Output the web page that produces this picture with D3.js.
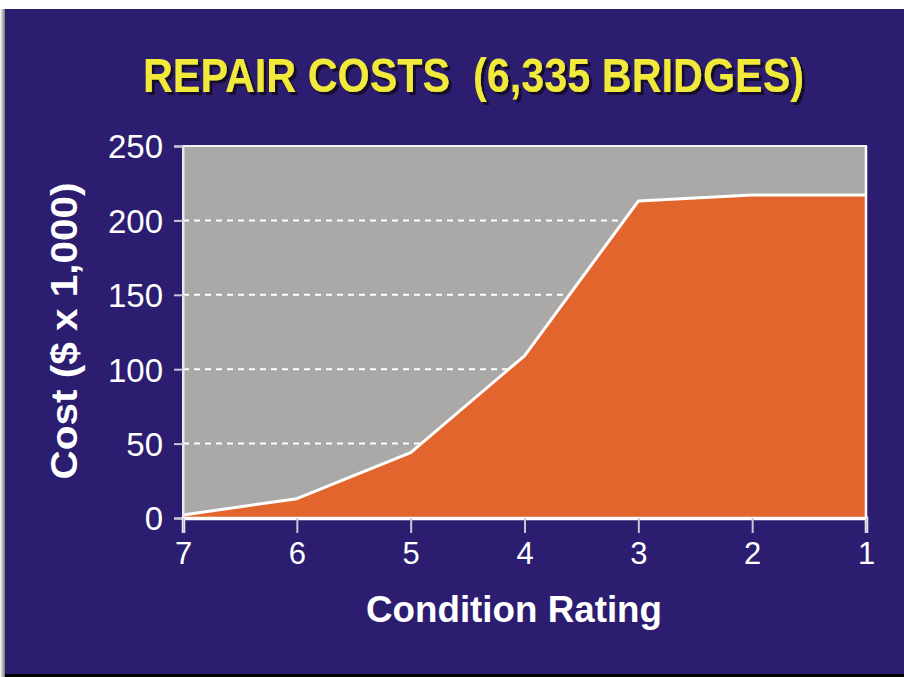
<!DOCTYPE html>
<html>
<head>
<meta charset="utf-8">
<script src="https://cdn.jsdelivr.net/npm/d3@7"></script>
<style>
	body { margin:0; background:#fff; }
	svg { display:block; }
</style>
</head>
<body>
<div id="chart"></div>
<script>

// data
const ratings = [7, 6, 5, 4, 3, 2, 1];
const costs = [2, 13, 44, 109, 213, 217, 217];
const yTicks = [0, 50, 100, 150, 200, 250];
const gridTicks = [50, 100, 150, 200];

function drawChart(){

	//sizing
	let width = 904;
	let height = 677;
	let margin = {top:146, right:38, bottom:159, left:183};

	let svg = d3.select("#chart")
		.append("svg")
		.attr("width", width)
		.attr("height", height);

	let defs = svg.append("defs");

	//shadow on the left edge
	let grad = defs.append("linearGradient").attr("id", "lshadow");
	grad.append("stop").attr("offset", "0%").attr("stop-color", "#fff");
	grad.append("stop").attr("offset", "100%").attr("stop-color", "#777");

	//title drop shadow
	defs.append("filter")
		.attr("id", "tshadow")
		.attr("filterUnits", "userSpaceOnUse")
		.attr("x", 120).attr("y", 40)
		.attr("width", 720).attr("height", 80)
		.append("feDropShadow")
		.attr("dx", 3).attr("dy", 3)
		.attr("stdDeviation", 0.4)
		.attr("flood-color", "#15102a")
		.attr("flood-opacity", 1);

	svg.append("rect")
		.attr("x", 0).attr("y", 9).attr("width", 5).attr("height", 668)
		.attr("fill", "url(#lshadow)");

	//panel
	svg.append("rect")
		.attr("x", 5).attr("y", 9)
		.attr("width", width - 5).attr("height", 665)
		.attr("fill", "#2c1d70");

	svg.append("rect")
		.attr("x", 5).attr("y", 674)
		.attr("width", width - 5).attr("height", 3)
		.attr("fill", "#000");

	//title
	svg.append("text")
		.attr("x", 143).attr("y", 92)
		.attr("textLength", 661)
		.attr("lengthAdjust", "spacingAndGlyphs")
		.attr("font-family", "'Liberation Sans Narrow', 'Arial Narrow', 'Liberation Sans', Arial, sans-serif")
		.attr("font-weight", "bold")
		.attr("font-size", 49)
		.attr("fill", "#f1ea3b")
		.attr("filter", "url(#tshadow)")
		.text("REPAIR COSTS\u00a0\u00a0(6,335 BRIDGES)");

	//scales
	let x = d3.scalePoint()
		.domain(ratings)
		.range([margin.left, width - margin.right]);

	let y = d3.scaleLinear()
		.domain([0, 250])
		.range([height - margin.bottom, margin.top]);

	//plot background
	svg.append("rect")
		.attr("x", margin.left).attr("y", margin.top)
		.attr("width", width - margin.right - margin.left)
		.attr("height", y(0) - margin.top)
		.attr("fill", "#aaa9a7")
		.attr("stroke", "#f2f2f2")
		.attr("stroke-width", 2);

	//grid
	svg.append("g")
		.selectAll("line")
		.data(gridTicks)
		.join("line")
		.attr("x1", margin.left).attr("x2", width - margin.right)
		.attr("y1", d => y(d)).attr("y2", d => y(d))
		.attr("stroke", "#fff")
		.attr("stroke-width", 2)
		.attr("stroke-dasharray", "6,5");

	//area + line
	let pts = ratings.map((r, i) => [r, costs[i]]);

	svg.append("path")
		.datum(pts)
		.attr("d", d3.area().x(d => x(d[0])).y0(y(0)).y1(d => y(d[1])))
		.attr("fill", "#e2652e");

	svg.append("path")
		.datum(pts)
		.attr("d", d3.line().x(d => x(d[0])).y(d => y(d[1])))
		.attr("fill", "none")
		.attr("stroke", "#fff")
		.attr("stroke-width", 3)
		.attr("stroke-linejoin", "round");

	//right border
	svg.append("line")
		.attr("x1", width - margin.right).attr("x2", width - margin.right)
		.attr("y1", margin.top).attr("y2", y(0))
		.attr("stroke", "#fff").attr("stroke-width", 2.5);

	//axes
	let yAxis = svg.append("g")
		.attr("transform", `translate(${margin.left},0)`)
		.call(d3.axisLeft(y).tickValues(yTicks).tickSize(9).tickPadding(11));

	yAxis.select(".domain").attr("stroke", "#e8e6ee").attr("stroke-width", 2);
	yAxis.selectAll(".tick line").attr("stroke", "#c9c5d8").attr("stroke-width", 2);
	yAxis.selectAll(".tick text")
		.attr("fill", "#fff")
		.attr("font-family", "'Liberation Sans', Arial, sans-serif")
		.attr("font-size", 33)
		.attr("dy", "0.36em");

	let xAxis = svg.append("g")
		.attr("transform", `translate(0,${y(0)})`)
		.call(d3.axisBottom(x).tickSize(15).tickPadding(9));

	xAxis.select(".domain").attr("stroke", "#fff").attr("stroke-width", 3.5);
	xAxis.selectAll(".tick line").attr("stroke", "#c9c5d8").attr("stroke-width", 2);
	xAxis.selectAll(".tick text")
		.attr("fill", "#fff")
		.attr("font-family", "'Liberation Sans', Arial, sans-serif")
		.attr("font-size", 31);

	//axis titles
	svg.append("text")
		.attr("x", 514).attr("y", 622)
		.attr("text-anchor", "middle")
		.attr("textLength", 296)
		.attr("lengthAdjust", "spacingAndGlyphs")
		.attr("font-family", "'Liberation Sans', Arial, sans-serif")
		.attr("font-weight", "bold")
		.attr("font-size", 37)
		.attr("fill", "#fff")
		.text("Condition Rating");

	svg.append("text")
		.attr("transform", "translate(77,331) rotate(-90)")
		.attr("text-anchor", "middle")
		.attr("textLength", 297)
		.attr("lengthAdjust", "spacingAndGlyphs")
		.attr("font-family", "'Liberation Sans', Arial, sans-serif")
		.attr("font-weight", "bold")
		.attr("font-size", 37)
		.attr("fill", "#fff")
		.text("Cost ($ x 1,000)");

} //drawChart

drawChart();
</script>
</body>
</html>
